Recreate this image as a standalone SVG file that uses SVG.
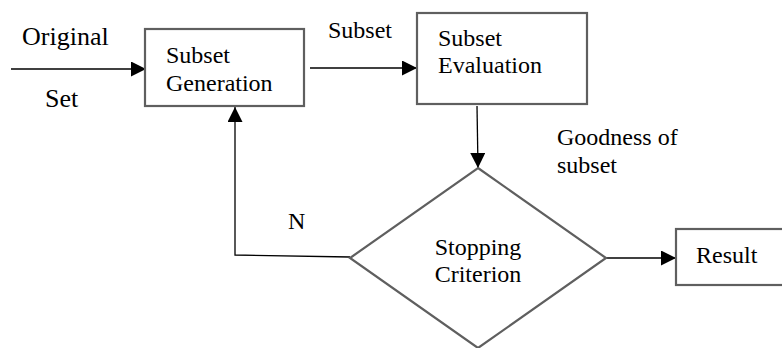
<svg xmlns="http://www.w3.org/2000/svg" width="782" height="348" viewBox="0 0 782 348">
  <defs>
    <marker id="arrow" markerUnits="userSpaceOnUse" markerWidth="16" markerHeight="16" viewBox="0 0 16 16" refX="15" refY="7.5" orient="auto">
      <path d="M0,0 L15,7.5 L0,15 z" fill="#000"/>
    </marker>
    <style>
      .box { fill: #fff; stroke: #5f5f5f; stroke-width: 2.2; }
      .edge { fill: none; stroke: #000; stroke-width: 1.3; }
      .lbl { font-family: "Liberation Serif", "Times New Roman", serif; font-size: 24px; fill: #000; }
      .big { font-size: 26px; }
    </style>
  </defs>
  <rect width="782" height="348" fill="#fff"/>

  <!-- connectors -->
  <g id="connectors">
    <line class="edge" x1="11" y1="69" x2="146" y2="69" marker-end="url(#arrow)"/>
    <line class="edge" x1="310" y1="68" x2="417" y2="68" marker-end="url(#arrow)"/>
    <line class="edge" x1="477" y1="106" x2="478" y2="168" marker-end="url(#arrow)"/>
    <polyline class="edge" points="350,257 235,255 235,107" marker-end="url(#arrow)"/>
    <line class="edge" x1="606" y1="258" x2="676" y2="258" marker-end="url(#arrow)"/>
  </g>

  <!-- edge labels -->
  <g id="labels">
    <text class="lbl big" x="22" y="45">Original</text>
    <text class="lbl big" x="45" y="107">Set</text>
    <text class="lbl" x="328" y="38">Subset</text>
    <text class="lbl" x="557" y="145">Goodness of</text>
    <text class="lbl" x="557" y="173">subset</text>
    <text class="lbl" x="288" y="229">N</text>
  </g>

  <g id="subset-generation">
    <rect class="box" x="145" y="29" width="159" height="77"/>
    <text class="lbl" x="166" y="63">Subset</text>
    <text class="lbl" x="166" y="91">Generation</text>
  </g>

  <g id="subset-evaluation">
    <rect class="box" x="417" y="13" width="170" height="91"/>
    <text class="lbl" x="438" y="46">Subset</text>
    <text class="lbl" x="438" y="73">Evaluation</text>
  </g>

  <g id="stopping-criterion">
    <polygon class="box" points="478,168 606,258 478,348 350,258"/>
    <text class="lbl" x="478" y="255" text-anchor="middle">Stopping</text>
    <text class="lbl" x="478" y="282" text-anchor="middle">Criterion</text>
  </g>

  <g id="result">
    <rect class="box" x="676" y="229" width="120" height="56"/>
    <text class="lbl" x="696" y="263">Result</text>
  </g>
</svg>
